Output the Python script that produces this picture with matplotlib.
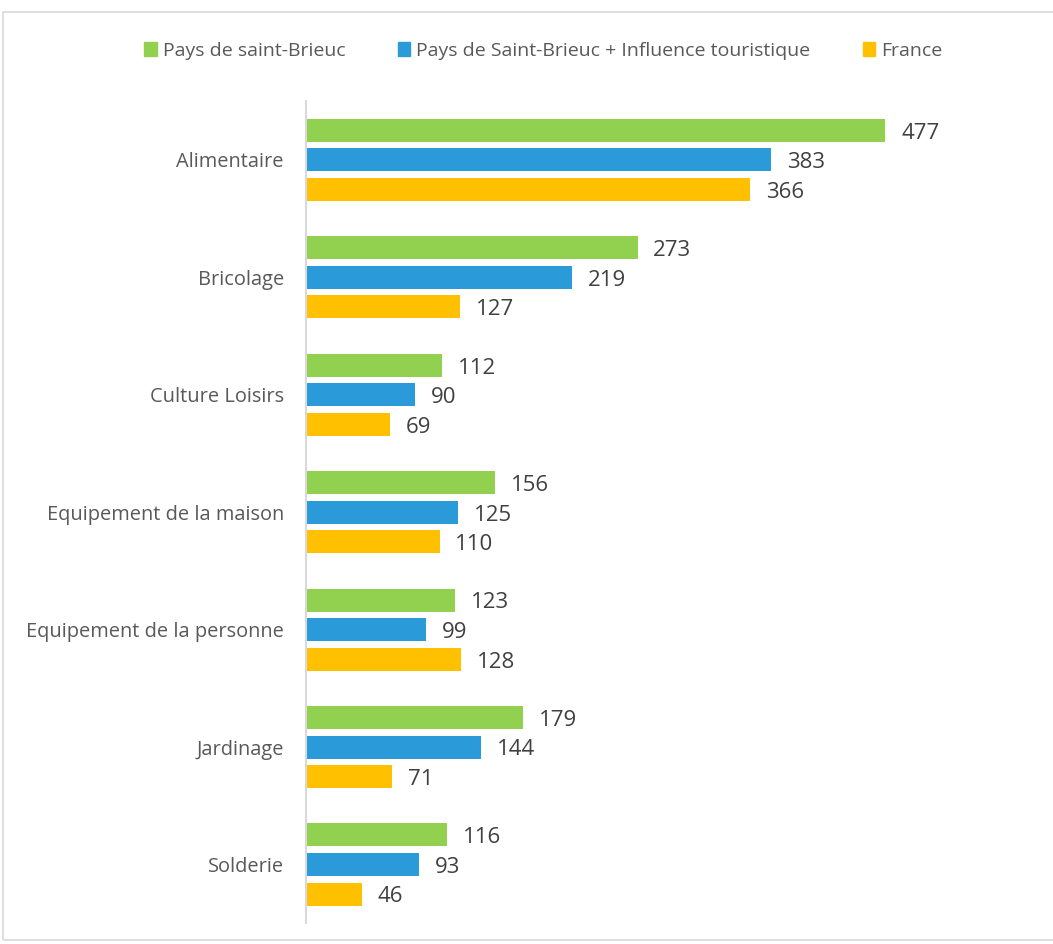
import numpy as np
import matplotlib
matplotlib.use('Agg')
import matplotlib.pyplot as plt
from matplotlib.patches import Patch, Rectangle

plt.rcParams['font.family'] = ['Open Sans', 'DejaVu Sans']

categories = ['Alimentaire', 'Bricolage', 'Culture Loisirs', 'Equipement de la maison',
              'Equipement de la personne', 'Jardinage', 'Solderie']
series_names = ['Pays de saint-Brieuc', 'Pays de Saint-Brieuc + Influence touristique', 'France']
pays = [477, 273, 112, 156, 123, 179, 116]
pays_tourisme = [383, 219, 90, 125, 99, 144, 93]
france = [366, 127, 69, 110, 128, 71, 46]
colors = ['#92d050', '#2a9ad8', '#ffc000']

fig = plt.figure(figsize=(10.53, 9.44), dpi=100)
ax = fig.add_axes([0.2906, 0.022, 0.692, 0.871])

# cadre gris autour du graphique
fig.patches.append(Rectangle((0.003, 0.004), 1.2, 0.983, transform=fig.transFigure,
                             fill=False, edgecolor='#d9d9d9', linewidth=1.2))

y = np.arange(len(categories))
pitch = 0.2515
height = 0.196
for i, (vals, col) in enumerate(zip([pays, pays_tourisme, france], colors)):
    pos = y + (i - 1) * pitch
    ax.barh(pos, vals, height=height, color=col)
    for p, v in zip(pos, vals):
        ax.text(v + 13, p + 0.025, str(v), va='center', ha='left', fontsize=16, color='#404040')

ax.set_ylim(len(categories) - 0.5, -0.5)
ax.set_xlim(0, 600)
ax.set_yticks(y)
ax.set_yticklabels(categories, fontsize=14.4, color='#595959')
ax.tick_params(axis='y', length=0, pad=16)
ax.set_xticks([])
for s in ['top', 'right', 'bottom']:
    ax.spines[s].set_visible(False)
ax.spines['left'].set_color('#d9d9d9')
ax.spines['left'].set_linewidth(1.5)

handles = [Patch(color=c) for c in colors]
fig.legend(handles, series_names, loc='center', bbox_to_anchor=(0.516, 0.946), ncol=3,
           frameon=False, fontsize=14, handlelength=0.65, handleheight=0.75,
           handletextpad=0.3, columnspacing=2.7, labelcolor='#595959')

plt.savefig('out.png', dpi=100)
